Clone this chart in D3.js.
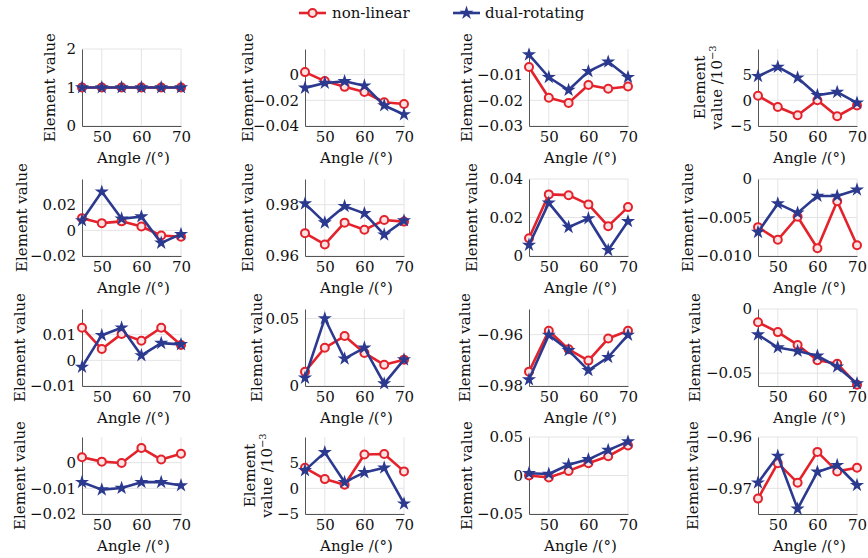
<!DOCTYPE html>
<html>
<head>
<meta charset="utf-8">
<script src="https://cdn.jsdelivr.net/npm/d3@7"></script>
<style>
  body { margin: 0; background: #fff; }
  text { font-family: "DejaVu Serif", serif; fill: #111; }
</style>
</head>
<body>
<svg id="chart" width="868" height="558"></svg>
<script>
// Data: 4x4 small multiples, row-major order
const angles = [45, 50, 55, 60, 65, 70];
const xTicks = [50, 60, 70];

const nonLinear = [
  [1, 1, 1, 1, 1, 1],
  [0.002, -0.005, -0.0095, -0.0135, -0.0215, -0.0228],
  [-0.007, -0.019, -0.021, -0.014, -0.0155, -0.0146],
  [0.9, -1.3, -2.9, 0, -3.1, -1.0],
  [0.0095, 0.0056, 0.007, 0.003, -0.004, -0.005],
  [0.9689, 0.9645, 0.973, 0.9702, 0.974, 0.9734],
  [0.0092, 0.032, 0.0316, 0.0268, 0.0155, 0.0254],
  [-0.00625, -0.0079, -0.0049, -0.009, -0.0029, -0.0086],
  [0.0127, 0.0044, 0.0103, 0.0076, 0.0127, 0.006],
  [0.0106, 0.0283, 0.037, 0.0245, 0.0157, 0.0195],
  [-0.9744, -0.9585, -0.9657, -0.9701, -0.9615, -0.9585],
  [-0.0103, -0.018, -0.028, -0.04, -0.0426, -0.059],
  [0.0021, 0.0004, -0.0001, 0.0057, 0.0012, 0.0035],
  [4.0, 1.8, 0.7, 6.6, 6.7, 3.3],
  [0, -0.0025, 0.006, 0.016, 0.025, 0.039],
  [-0.972, -0.9651, -0.9689, -0.9629, -0.9667, -0.966],
];

const dualRotating = [
  [1, 1, 1, 1, 1, 1],
  [-0.0103, -0.0065, -0.0052, -0.0086, -0.024, -0.031],
  [-0.0022, -0.011, -0.016, -0.0087, -0.005, -0.011],
  [4.7, 6.5, 4.4, 1.0, 1.6, -0.5],
  [0.0077, 0.03, 0.009, 0.0107, -0.0098, -0.003],
  [0.9804, 0.973, 0.9794, 0.9766, 0.9683, 0.9738],
  [0.0057, 0.0276, 0.015, 0.0195, 0.003, 0.018],
  [-0.0069, -0.0032, -0.0044, -0.0022, -0.0022, -0.0014],
  [-0.0026, 0.0098, 0.0127, 0.0019, 0.0067, 0.0062],
  [0.006, 0.05, 0.0202, 0.0283, 0.0018, 0.0195],
  [-0.9775, -0.9601, -0.9661, -0.9739, -0.9688, -0.9601],
  [-0.02, -0.03, -0.0328, -0.0365, -0.045, -0.058],
  [-0.0076, -0.0105, -0.0099, -0.0076, -0.0076, -0.0089],
  [3.5, 7.0, 1.2, 3.1, 4.0, -3.0],
  [0.003, 0.002, 0.014, 0.021, 0.033, 0.044],
  [-0.9689, -0.9637, -0.974, -0.9668, -0.9655, -0.9694],
];

const yDomains = [
  [0, 2], [-0.04, 0.02], [-0.03, 0], [-5, 10],
  [-0.02, 0.04], [0.96, 0.99], [0, 0.04], [-0.01, 0],
  [-0.01, 0.02], [0, 0.057], [-0.98, -0.95], [-0.06, 0],
  [-0.02, 0.01], [-5, 10], [-0.05, 0.05], [-0.975, -0.96],
];

const yTicks = [
  [0, 1, 2], [-0.04, -0.02, 0], [-0.03, -0.02, -0.01], [-5, 0, 5],
  [-0.02, 0, 0.02], [0.96, 0.98], [0, 0.02, 0.04], [-0.01, -0.005, 0],
  [-0.01, 0, 0.01], [0, 0.05], [-0.98, -0.96], [-0.05, 0],
  [-0.02, -0.01, 0], [-5, 0, 5], [-0.05, 0, 0.05], [-0.97, -0.96],
];

const yTickLabels = [
  ["0", "1", "2"], ["−0.04", "−0.02", "0"], ["−0.03", "−0.02", "−0.01"], ["−5", "0", "5"],
  ["−0.02", "0", "0.02"], ["0.96", "0.98"], ["0", "0.02", "0.04"], ["−0.010", "−0.005", "0"],
  ["−0.01", "0", "0.01"], ["0", "0.05"], ["−0.98", "−0.96"], ["−0.05", "0"],
  ["−0.02", "−0.01", "0"], ["−5", "0", "5"], ["−0.05", "0", "0.05"], ["−0.97", "−0.96"],
];

// panels whose values are shown in units of 10^-3
const milliPanels = [3, 13];

// layout
const colX = [82, 305, 529, 758];
const rowY = [49, 179, 309, 437];
const plotW = 99;
const plotH = 77;
const fontSize = 15;
const red = "#e3222b";
const blue = "#2b3a8f";

// centre x of each panel's y label (two entries for the two-line labels)
const yLabelX = [
  [50], [248], [467], [700, 717],
  [22], [248], [472], [688],
  [20], [257], [465], [695],
  [20], [250, 267], [467], [693],
];

const svg = d3.select("#chart");

const star = d3.symbol(d3.symbolStar, 62);

function drawPanel(i) {
  const col = i % 4;
  const row = Math.floor(i / 4);
  const g = svg.append("g").attr("transform", `translate(${colX[col]},${rowY[row]})`);

  const x = d3.scaleLinear().domain([45, 70]).range([0, plotW]);
  const y = d3.scaleLinear().domain(yDomains[i]).range([plotH, 0]);

  // faint grid
  g.append("g")
    .selectAll("line")
    .data(xTicks)
    .join("line")
    .attr("x1", (d) => x(d))
    .attr("x2", (d) => x(d))
    .attr("y1", 0)
    .attr("y2", plotH)
    .attr("stroke", "#e4e4e4")
    .attr("stroke-width", 1);
  g.append("g")
    .selectAll("line")
    .data(yTicks[i])
    .join("line")
    .attr("x1", 0)
    .attr("x2", plotW)
    .attr("y1", (d) => y(d))
    .attr("y2", (d) => y(d))
    .attr("stroke", "#e4e4e4")
    .attr("stroke-width", 1);

  // axes
  const xAxis = g.append("g")
    .attr("transform", `translate(0,${plotH})`)
    .call(d3.axisBottom(x).tickValues(xTicks).tickFormat(d3.format("d")).tickSize(0).tickSizeOuter(0).tickPadding(5));
  const yAxis = g.append("g")
    .call(
      d3.axisLeft(y)
        .tickValues(yTicks[i])
        .tickFormat((d, k) => yTickLabels[i][k])
        .tickSize(0)
        .tickSizeOuter(0)
        .tickPadding(6),
    );
  [xAxis, yAxis].forEach((a) => {
    a.attr("font-family", null).attr("font-size", fontSize);
    a.select(".domain").attr("stroke", "#555").attr("stroke-width", 1);
    a.selectAll("text").attr("fill", "#111");
  });

  // lines + markers
  const line = d3.line().x((d, k) => x(angles[k])).y((d) => y(d));

  g.append("path")
    .datum(nonLinear[i])
    .attr("d", line)
    .attr("fill", "none")
    .attr("stroke", red)
    .attr("stroke-width", 2.6)
    .attr("stroke-linejoin", "round");
  g.selectAll("circle.nl")
    .data(nonLinear[i])
    .join("circle")
    .attr("cx", (d, k) => x(angles[k]))
    .attr("cy", (d) => y(d))
    .attr("r", 4)
    .attr("fill", "#fbe3e3")
    .attr("stroke", red)
    .attr("stroke-width", 2);

  g.append("path")
    .datum(dualRotating[i])
    .attr("d", line)
    .attr("fill", "none")
    .attr("stroke", blue)
    .attr("stroke-width", 2.6)
    .attr("stroke-linejoin", "round");
  g.selectAll("path.dr")
    .data(dualRotating[i])
    .join("path")
    .attr("class", "dr")
    .attr("transform", (d, k) => `translate(${x(angles[k])},${y(d)})`)
    .attr("d", star)
    .attr("fill", blue);

  // x label
  g.append("text")
    .attr("x", plotW / 2 + 2)
    .attr("y", plotH + 37)
    .attr("text-anchor", "middle")
    .attr("font-size", fontSize)
    .text("Angle /(°)");

  // y label (baseline sits ~5px right of the visual centre once rotated)
  const lx = yLabelX[i].map((c) => c + 5 - colX[col]);
  if (milliPanels.includes(i)) {
    g.append("text")
      .attr("transform", `translate(${lx[0]},${plotH / 2}) rotate(-90)`)
      .attr("text-anchor", "middle")
      .attr("font-size", fontSize)
      .text("Element");
    const t = g.append("text")
      .attr("transform", `translate(${lx[1]},${plotH / 2}) rotate(-90)`)
      .attr("text-anchor", "middle")
      .attr("font-size", fontSize);
    t.append("tspan").text("value /10");
    t.append("tspan").attr("dy", -6).attr("font-size", 10).text("−3");
  } else {
    g.append("text")
      .attr("transform", `translate(${lx[0]},${plotH / 2}) rotate(-90)`)
      .attr("text-anchor", "middle")
      .attr("font-size", fontSize)
      .text("Element value");
  }
}

d3.range(16).forEach(drawPanel);

// legend
const legend = svg.append("g").attr("transform", "translate(0,13)");
legend.append("line")
  .attr("x1", 299).attr("x2", 326).attr("y1", 0).attr("y2", 0)
  .attr("stroke", red).attr("stroke-width", 2.6);
legend.append("circle")
  .attr("cx", 312.5).attr("cy", 0).attr("r", 4)
  .attr("fill", "#fbe3e3").attr("stroke", red).attr("stroke-width", 2);
legend.append("text")
  .attr("x", 332).attr("y", 5)
  .attr("font-size", fontSize)
  .text("non-linear");

legend.append("line")
  .attr("x1", 453).attr("x2", 480).attr("y1", 0).attr("y2", 0)
  .attr("stroke", blue).attr("stroke-width", 2.6);
legend.append("path")
  .attr("transform", "translate(466.5,0)")
  .attr("d", star)
  .attr("fill", blue);
legend.append("text")
  .attr("x", 485).attr("y", 5)
  .attr("font-size", fontSize)
  .text("dual-rotating");
</script>
</body>
</html>
